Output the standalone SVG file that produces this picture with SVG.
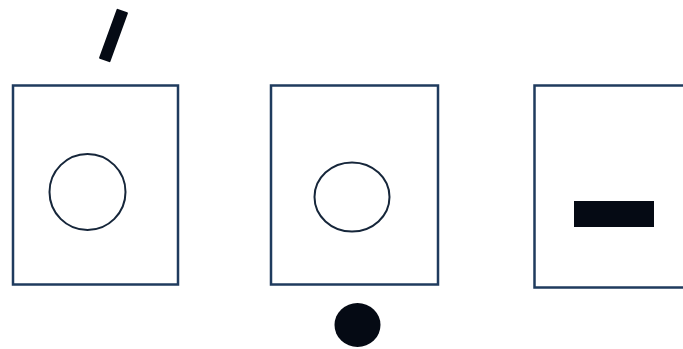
<svg xmlns="http://www.w3.org/2000/svg" width="683" height="349" viewBox="0 0 683 349">
<style>
.box{fill:#ffffff;stroke:#1f3b5e;stroke-width:2.5}
.ring{fill:none;stroke:#16263a;stroke-width:2}
.solid{fill:#050a14}
</style>
<rect width="683" height="349" fill="#ffffff"/>
<g id="panel1">
<rect class="box" x="13" y="85.5" width="165" height="199"/>
<circle class="ring" cx="87.5" cy="192" r="38"/>
<rect class="solid" x="-6" y="-26.5" width="12" height="53" rx="1" transform="translate(113.5,35.5) rotate(20)"/>
</g>
<g id="panel2">
<rect class="box" x="271" y="85.5" width="167" height="199"/>
<ellipse class="ring" cx="352" cy="197" rx="37.5" ry="34.5"/>
<ellipse class="solid" cx="357.5" cy="325" rx="23" ry="22"/>
</g>
<g id="panel3">
<rect class="box" x="534.5" y="85.5" width="160" height="202"/>
<rect class="solid" x="574" y="201" width="80" height="26"/>
</g>
<g id="connectors"></g>
</svg>
